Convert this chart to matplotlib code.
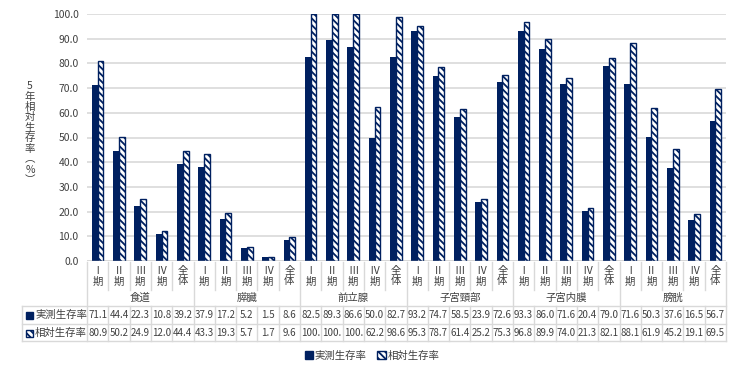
import numpy as np
import matplotlib.pyplot as plt
from matplotlib.patches import Patch, Rectangle
from matplotlib.lines import Line2D

plt.rcParams['font.family'] = ['Noto Sans CJK JP', 'DejaVu Sans']
plt.rcParams['hatch.linewidth'] = 1.3

# data
sites = ['食道', '膵臓', '前立腺', '子宮頸部', '子宮内膜', '膀胱']
stages = ['Ⅰ\n期', 'Ⅱ\n期', 'Ⅲ\n期', 'Ⅳ\n期', '全\n体']
observed = [71.1, 44.4, 22.3, 10.8, 39.2,
            37.9, 17.2, 5.2, 1.5, 8.6,
            82.5, 89.3, 86.6, 50.0, 82.7,
            93.2, 74.7, 58.5, 23.9, 72.6,
            93.3, 86.0, 71.6, 20.4, 79.0,
            71.6, 50.3, 37.6, 16.5, 56.7]
relative = [80.9, 50.2, 24.9, 12.0, 44.4,
            43.3, 19.3, 5.7, 1.7, 9.6,
            100.0, 100.0, 100.0, 62.2, 98.6,
            95.3, 78.7, 61.4, 25.2, 75.3,
            96.8, 89.9, 74.0, 21.3, 82.1,
            88.1, 61.9, 45.2, 19.1, 69.5]
series = ['実測生存率', '相対生存率']

navy = '#002060'
grid = '#d9d9d9'
txt = '#404040'
hatch = '\\' * 5

W, H = 740, 375
fig = plt.figure(figsize=(7.4, 3.75), dpi=100)
x0, x1, y0, y1 = 87, 726, 261, 14
ax = fig.add_axes([x0 / W, 1 - y0 / H, (x1 - x0) / W, (y0 - y1) / H])

n = len(observed)
x = np.arange(n)
bw = 0.27
ax.bar(x - bw / 2, observed, bw, color=navy, zorder=3)
ax.bar(x + bw / 2, relative, bw, facecolor='white', edgecolor=navy,
       hatch=hatch, linewidth=1.0, zorder=3)

ax.set_xlim(-0.5, n - 0.5)
ax.set_ylim(0, 100)
ax.set_yticks(np.arange(0, 101, 10))
ax.set_yticklabels([f'{v:.1f}' for v in np.arange(0, 101, 10)], fontsize=7.5, color=txt)
ax.tick_params(axis='y', length=0, pad=6)
ax.set_xticks([])
ax.yaxis.grid(True, color=grid, linewidth=1.2, zorder=0)
for s in ax.spines.values():
    s.set_visible(False)
ax.axhline(0, color='#bfbfbf', linewidth=1.0, zorder=4)

# y label, stacked characters
fig.text(30 / W, 1 - 133 / H, '5\n年\n相\n対\n生\n存\n率\n︵\n%\n︶', ha='center', va='center',
         fontsize=7.5, color=txt, linespacing=1.05)

# data table below the chart
tr = ax.get_xaxis_transform()
def ay(py):
    return (y0 - py) / (y0 - y1)

def hline(xa, xb, py):
    ax.add_line(Line2D([xa, xb], [ay(py), ay(py)], transform=tr, color=grid,
                       linewidth=1.0, clip_on=False))

def vline(xv, pa, pb):
    ax.add_line(Line2D([xv, xv], [ay(pa), ay(pb)], transform=tr, color=grid,
                       linewidth=1.0, clip_on=False))

r_top, r_stage, r_site, r_1, r_2 = 262, 290, 306, 324, 341
for i in range(n + 1):
    xv = i - 0.5
    if i % 5 == 0:
        vline(xv, r_top, r_2)
    else:
        vline(xv, r_top, r_stage)
        vline(xv, r_site, r_2)
for i in range(n):
    ax.text(i, ay(276), stages[i % 5], transform=tr, ha='center', va='center',
            fontsize=7.5, color=txt, linespacing=1.1)
    ax.text(i, ay(315), f'{observed[i]:.1f}', transform=tr, ha='center', va='center',
            fontsize=7, color=txt)
    ax.text(i, ay(333), f'{relative[i]:.1f}'[:4], transform=tr, ha='center', va='center',
            fontsize=7, color=txt)
for g, name in enumerate(sites):
    ax.text(g * 5 + 2, ay(298), name, transform=tr, ha='center', va='center',
            fontsize=7.5, color=txt)

# row label cells
xl = (22 - x0) / ((x1 - x0) / n) - 0.5
hline(xl, n - 0.5, r_site)
hline(xl, n - 0.5, r_1)
hline(xl, n - 0.5, r_2)
vline(xl, r_site, r_2)
for py, label, hatched in [(315, series[0], False), (333, series[1], True)]:
    fig.add_artist(Rectangle((26 / W, 1 - (py + 3.5) / H), 7 / W, 7 / H,
                             facecolor='white' if hatched else navy, edgecolor=navy,
                             hatch=hatch if hatched else None, linewidth=1.0))
    fig.text(35 / W, 1 - py / H, label, ha='left', va='center', fontsize=7.5, color=txt)

handles = [Patch(facecolor=navy, edgecolor=navy),
           Patch(facecolor='white', edgecolor=navy, hatch=hatch)]
fig.legend(handles, series, loc='center', bbox_to_anchor=(372 / W, 1 - 356 / H), ncol=2,
           frameon=False, fontsize=7.5, handlelength=0.8, handleheight=0.8,
           handletextpad=0.2, columnspacing=1.0, labelcolor=txt)

fig.savefig('out.png', dpi=100)
